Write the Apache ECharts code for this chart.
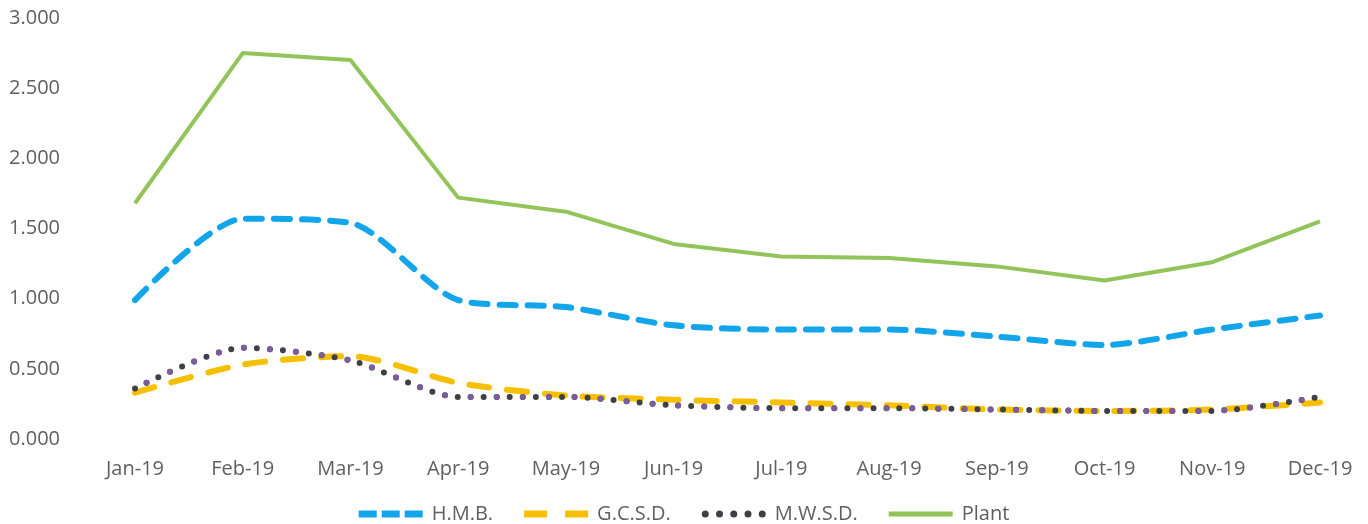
<!DOCTYPE html>
<html>
<head>
<meta charset="utf-8">
<script src="https://cdn.jsdelivr.net/npm/echarts@6/dist/echarts.min.js"></script>
<style>
  html, body { margin: 0; padding: 0; background: #fff; }
  #chart { width: 1368px; height: 524px; }
</style>
</head>
<body>
<div id="chart"></div>
<script>
// months and values
var months = ['Jan-19', 'Feb-19', 'Mar-19', 'Apr-19', 'May-19', 'Jun-19',
              'Jul-19', 'Aug-19', 'Sep-19', 'Oct-19', 'Nov-19', 'Dec-19'];
var hmb   = [0.99, 1.57, 1.54, 0.99, 0.94, 0.81, 0.78, 0.78, 0.73, 0.67, 0.78, 0.88];
var gcsd  = [0.33, 0.53, 0.59, 0.40, 0.31, 0.28, 0.26, 0.24, 0.21, 0.20, 0.21, 0.26];
var mwsd  = [0.36, 0.65, 0.56, 0.30, 0.30, 0.24, 0.22, 0.22, 0.21, 0.20, 0.20, 0.30];
var plant = [1.68, 2.75, 2.70, 1.72, 1.62, 1.39, 1.30, 1.29, 1.23, 1.13, 1.26, 1.55];

var font = 'Open Sans';
var grey = '#606060';

// legend icons drawn like the line styles (64 x 7 box)
var iconDash3 = 'path://M0 0H18V7H0Z M23 0H41V7H23Z M46 0H64V7H46Z';
var iconDash2 = 'path://M0 0H23V7H0Z M41 0H64V7H41Z';
var iconDots  = 'path://M0 3.5A3.5 3.5 0 1 0 7 3.5A3.5 3.5 0 1 0 0 3.5Z' +
  ' M14.25 3.5A3.5 3.5 0 1 0 21.25 3.5A3.5 3.5 0 1 0 14.25 3.5Z' +
  ' M28.5 3.5A3.5 3.5 0 1 0 35.5 3.5A3.5 3.5 0 1 0 28.5 3.5Z' +
  ' M42.75 3.5A3.5 3.5 0 1 0 49.75 3.5A3.5 3.5 0 1 0 42.75 3.5Z' +
  ' M57 3.5A3.5 3.5 0 1 0 64 3.5A3.5 3.5 0 1 0 57 3.5Z';
var iconSolid = 'path://M0 1H64V6H0Z';

var chart = echarts.init(document.getElementById('chart'));

chart.setOption({
  animation: false,
  grid: { left: 135, right: 48, top: 18, bottom: 85 },
  legend: {
    top: 499,
    left: 'center',
    itemWidth: 64,
    itemHeight: 7,
    itemGap: 31,
    textStyle: { fontFamily: font, fontSize: 20, color: grey, padding: [0, 0, 0, 4] },
    data: [
      { name: 'H.M.B.', icon: iconDash3 },
      { name: 'G.C.S.D.', icon: iconDash2 },
      { name: 'M.W.S.D.', icon: iconDots },
      { name: 'Plant', icon: iconSolid }
    ]
  },
  xAxis: {
    type: 'category',
    data: months,
    boundaryGap: false,
    axisLine: { show: false },
    axisTick: { show: false },
    splitLine: { show: false },
    axisLabel: { fontFamily: font, fontSize: 20, color: grey, margin: 20 }
  },
  yAxis: {
    type: 'value',
    min: 0,
    max: 3,
    interval: 0.5,
    axisLine: { show: false },
    axisTick: { show: false },
    splitLine: { show: false },
    axisLabel: {
      fontFamily: font, fontSize: 20, color: grey, margin: 75,
      formatter: function (v) { return v.toFixed(3); }
    }
  },
  series: [
    {
      name: 'H.M.B.', type: 'line', data: hmb, symbol: 'none', smooth: 0.25,
      itemStyle: { color: '#12a5ea' },
      lineStyle: { color: '#12a5ea', width: 6, type: [16, 12], cap: 'round' }
    },
    {
      name: 'G.C.S.D.', type: 'line', data: gcsd, symbol: 'none', smooth: 0.25,
      itemStyle: { color: '#f6c000' },
      lineStyle: { color: '#f6c000', width: 6, type: [20, 18], cap: 'round' }
    },
    {
      name: 'M.W.S.D.', type: 'line', data: mwsd, symbol: 'none', smooth: 0.25,
      itemStyle: { color: '#3f3f46' },
      lineStyle: { color: '#3f3f46', width: 6, type: [0, 13], cap: 'round' }
    },
    {
      // purple dots mixed into the dotted line
      name: 'M.W.S.D. purple', type: 'line', data: mwsd, symbol: 'none', smooth: 0.25,
      lineStyle: { color: '#7b5c9c', width: 6, type: [0, 26], dashOffset: 13, cap: 'round' },
      tooltip: { show: false }
    },
    {
      name: 'Plant', type: 'line', data: plant, symbol: 'none',
      itemStyle: { color: '#92c45a' },
      lineStyle: { color: '#92c45a', width: 4 }
    }
  ]
});
</script>
</body>
</html>
